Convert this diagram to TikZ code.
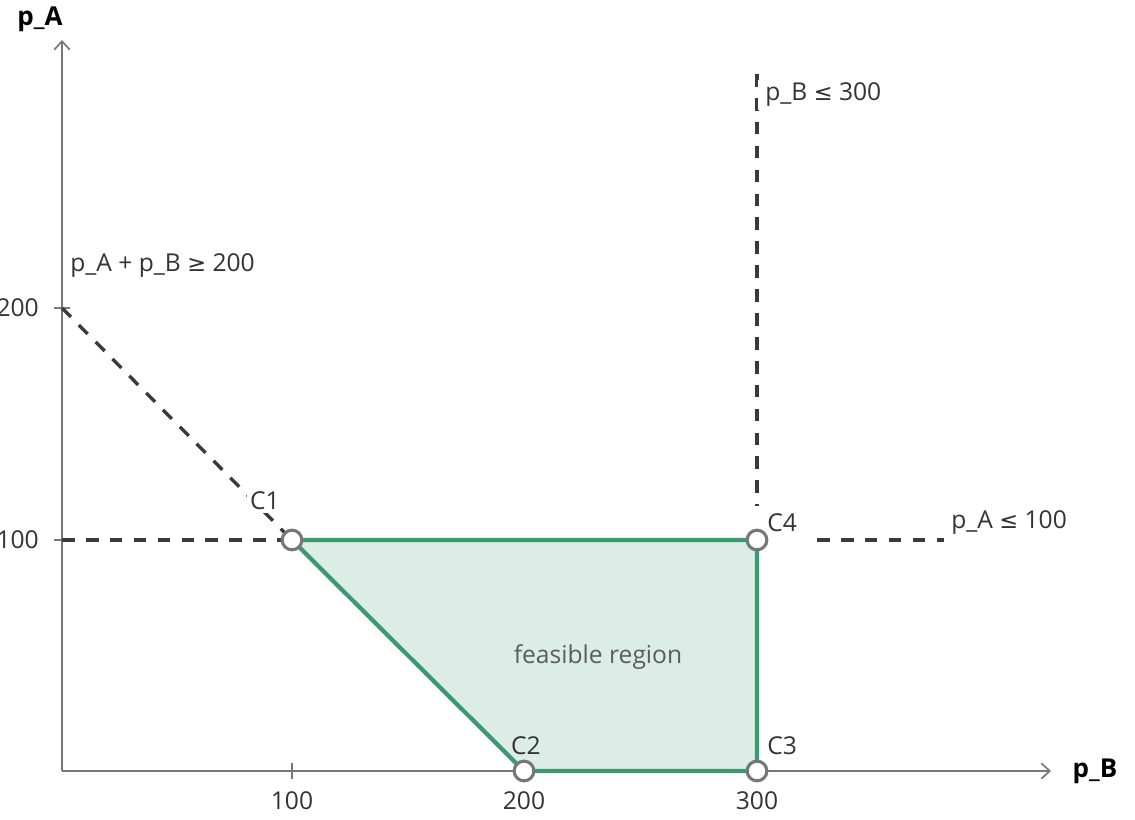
\documentclass[tikz,border=0pt]{standalone}
\usepackage{fontspec}
\setmainfont{Open Sans}
\newfontfamily\symfont{DejaVu Sans}
\usepackage{tikz}
\usetikzlibrary{arrows.meta,calc}
\definecolor{axisgray}{HTML}{777777}
\definecolor{dashgray}{HTML}{3A3A3A}
\definecolor{regiongreen}{HTML}{3A9A6E}
\definecolor{regionfill}{HTML}{DCECE6}
\definecolor{textgray}{HTML}{333333}
\newcommand{\geqsign}{{\symfont\fontsize{16}{20}\selectfont ≥}}
\newcommand{\leqsign}{{\symfont\fontsize{16}{20}\selectfont ≤}}

\begin{document}
\begin{tikzpicture}[x=0.025cm,y=-0.025cm,
  axis/.style={axisgray,line width=1.4pt,-{Straight Barb[length=6pt,width=11pt,line width=1.2pt]}},
  tick/.style={axisgray,line width=1.4pt},
  limit/.style={dashgray,line width=2.4pt,dash pattern=on 9pt off 8pt},
  edge/.style={regiongreen,line width=3pt},
  corner/.style={circle,draw=axisgray,fill=white,line width=2.2pt,minimum size=14pt,inner sep=0pt},
  lbl/.style={text=textgray,font=\fontsize{17.5}{20}\selectfont,inner sep=0pt},
  tag/.style={lbl,fill=white,inner xsep=5pt,inner ysep=2pt,anchor=west},
  axlbl/.style={font=\bfseries\fontsize{18.5}{20}\selectfont,inner sep=0pt}]
\useasboundingbox (0,0) rectangle (1135,820);
% axes
\coordinate (O) at (62,771);
\coordinate (ytop) at (62,40);
\coordinate (xend) at (1051,771);
\draw[axis] (O) -- (ytop);
\draw[axis] (O) -- (xend);
\node[axlbl] (pA) at (40,19) {p\_A};
\node[axlbl] (pB) at (1095,771) {p\_B};
% ticks
\draw[tick] (292,763) -- (292,779);
\draw[tick] (524,763) -- (524,779);
\draw[tick] (757,763) -- (757,779);
\draw[tick] (54,308) -- (70,308);
\draw[tick] (54,540) -- (70,540);
\node[lbl] (x1) at (292,801) {100};
\node[lbl] (x2) at (524,801) {200};
\node[lbl] (x3) at (757,801) {300};
\node[lbl,anchor=east] (y2) at (39,308) {200};
\node[lbl,anchor=east] (y1) at (39,540) {100};
% corners
\coordinate (c1) at (292,540);
\coordinate (c2) at (524,771);
\coordinate (c3) at (757,771);
\coordinate (c4) at (757,540);
\filldraw[edge,fill=regionfill] (c1) -- (c4) -- (c3) -- (c2) -- cycle;
\node[lbl,text=textgray!80] (fr) at (598,657) {feasible region};
% constraints
\coordinate (a200) at (62,308);
\coordinate (a100) at (62,540);
\coordinate (btop) at (757,74);
\coordinate (bbot) at (757,506);
\coordinate (r1) at (817,540);
\coordinate (r2) at (944,540);
\draw[limit] (a200) -- (c1);
\draw[limit] (a100) -- (c1);
\draw[limit] (btop) -- (bbot);
\draw[limit] (r1) -- (r2);
\node[tag] (sum) at (63,266) {p\_A + p\_B \geqsign{} 200};
\node[tag] (bmax) at (758,95) {p\_B \leqsign{} 300};
\node[lbl,anchor=west] (amax) at (951,523) {p\_A \leqsign{} 100};
\node[corner] (C1) at (c1) {};
\node[corner] (C2) at (c2) {};
\node[corner] (C3) at (c3) {};
\node[corner] (C4) at (c4) {};
\node[lbl,fill=white,inner sep=2pt] (l1) at (265,501) {C1};
\node[lbl] (l2) at (526,746) {C2};
\node[lbl,anchor=west] (l3) at (767,746) {C3};
\node[lbl,anchor=west] (l4) at (767,523) {C4};
\end{tikzpicture}
\end{document}
